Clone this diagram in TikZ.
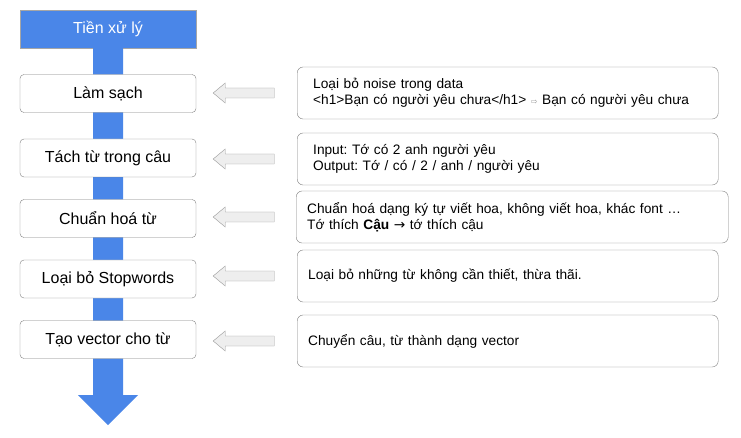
\documentclass[tikz,border=0pt]{standalone}
\usepackage{fontspec}
\setmainfont{Liberation Sans}
\newfontfamily\symfont{DejaVu Sans}
\usetikzlibrary{positioning, calc}

\definecolor{flowblue}{HTML}{4A86E8}
\definecolor{boxline}{HTML}{808080}
\definecolor{hollowfill}{HTML}{EEEEEE}
\definecolor{hollowline}{HTML}{9A9A9A}

\frenchspacing
\begin{document}
\begin{tikzpicture}[
  x=1pt, y=-1pt,
  font=\fontsize{16}{19}\selectfont,
  headbox/.style={draw=gray!70, fill=flowblue, text=white,
                  minimum width=176pt, minimum height=38pt, inner sep=0pt},
  stage/.style={draw=boxline, fill=white, rounded corners=4pt,
                minimum width=176pt, minimum height=38pt, inner sep=0pt},
  detail/.style={draw=boxline, fill=white, rounded corners=6pt, anchor=west,
                 minimum height=52pt, inner xsep=16pt, align=left,
                 text width=389pt, font=\fontsize{13.7}{16}\selectfont},
  hollow/.style={draw=hollowline, fill=hollowfill, line join=miter},
]
\useasboundingbox (0,0) rectangle (741,438);

% Header and main flow arrow
\node[headbox] (pre) at (108,29) {Tiền xử lý};
\coordinate (tip) at (108,425);
\fill[flowblue] ($(pre.south)+(-15,0)$) -- ($(tip)+(-15,-30)$)
   -- ($(tip)+(-30,-30)$) -- (tip) -- ($(tip)+(30,-30)$)
   -- ($(tip)+(15,-30)$) -- ($(pre.south)+(15,0)$) -- cycle;

% Steps on the flow
\node[stage] (s1) at (108,93.5)  {Làm sạch};
\node[stage] (s2) at (108,158)   {Tách từ trong câu};
\node[stage] (s3) at (108,218.5) {Chuẩn hoá từ};
\node[stage] (s4) at (108,279)   {Loại bỏ Stopwords};
\node[stage] (s5) at (108,339.5) {Tạo vector cho từ};

% Explanations
\node[detail] (d1) at (297,93)
  {Loại bỏ noise trong data\\
   <h1>Bạn có người yêu chưa</h1> {\symfont\color{gray!80}\footnotesize ⇨} Bạn có người yêu chưa};
\node[detail] (d2) at (297,159)
  {Input: Tớ có 2 anh người yêu\\
   Output: Tớ / có / 2 / anh / người yêu};
\node[detail, inner xsep=11pt, text width=410pt] (d3) at (296,217)
  {Chuẩn hoá dạng ký tự viết hoa, không viết hoa, khác font …\\
   Tớ thích {\bfseries Cậu} {\symfont →} tớ thích cậu};
\node[detail, inner xsep=11pt, text width=399pt] (d4) at (297,276)
  {Loại bỏ những từ không cần thiết, thừa thãi.};
\node[detail, inner xsep=11pt, text width=399pt] (d5) at (297,341)
  {Chuyển câu, từ thành dạng vector};

% Hollow arrows from explanation to step
\foreach \i in {1,...,5}
  \draw[hollow] ($(s\i.east |- d\i.west)+(17,0)$) coordinate (h\i)
     -- ++(12,-10) -- ++(0,5) -- ++(49,0) -- ++(0,10)
     -- ++(-49,0) -- ++(0,5) -- cycle;
\end{tikzpicture}
\end{document}
